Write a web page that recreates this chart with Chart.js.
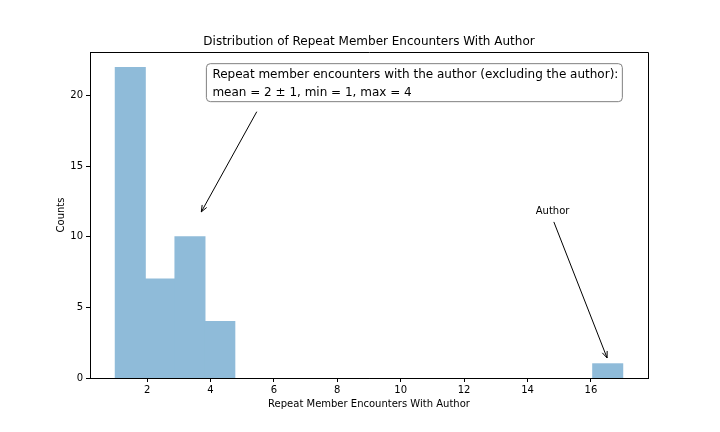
<!DOCTYPE html>
<html>
<head>
<meta charset="utf-8">
<script src="https://cdn.jsdelivr.net/npm/chart.js@4"></script>
<style>
  html, body { margin: 0; padding: 0; background: #fff; }
  #wrap { width: 720px; height: 432px; }
</style>
</head>
<body>
<div id="wrap"><canvas id="myChart"></canvas></div>
<script>
// Histogram data (17 bins between 1 and 17)
var binMin = 1;
var binMax = 17;
var counts = [22, 7, 10, 4, 0, 0, 0, 0, 0, 0, 0, 0, 0, 0, 0, 0, 1];
var xTicks = [2, 4, 6, 8, 10, 12, 14, 16];
var yTicks = [0, 5, 10, 15, 20];
var titleText = "Distribution of Repeat Member Encounters With Author";
var xLabel = "Repeat Member Encounters With Author";
var yLabel = "Counts";
var boxLines = [
  "Repeat member encounters with the author (excluding the author):",
  "mean = 2 \u00b1 1, min = 1, max = 4"
];

var binWidth = (binMax - binMin) / counts.length;
var points = counts.map(function (c, i) {
  return { x: binMin + binWidth * (i + 0.5), y: c };
});

var FONT = "'DejaVu Sans', sans-serif";

function drawArrow(ctx, x1, y1, x2, y2) {
  var ang = Math.atan2(y2 - y1, x2 - x1);
  var len = 7, spread = 0.38;
  ctx.beginPath();
  ctx.moveTo(x1, y1);
  ctx.lineTo(x2, y2);
  ctx.moveTo(x2 - len * Math.cos(ang - spread), y2 - len * Math.sin(ang - spread));
  ctx.lineTo(x2, y2);
  ctx.lineTo(x2 - len * Math.cos(ang + spread), y2 - len * Math.sin(ang + spread));
  ctx.stroke();
}

var annotations = {
  id: "annotations",
  afterDraw: function (chart) {
    var ctx = chart.ctx, xs = chart.scales.x, ys = chart.scales.y, a = chart.chartArea;
    ctx.save();
    // spines (bottom redrawn so bars never cover it)
    ctx.strokeStyle = "#000";
    ctx.lineWidth = 1;
    ctx.beginPath();
    ctx.moveTo(a.left, a.bottom + 0.5);
    ctx.lineTo(a.right + 0.5, a.bottom + 0.5);
    ctx.moveTo(a.left, a.top + 0.5);
    ctx.lineTo(a.right + 0.5, a.top + 0.5);
    ctx.lineTo(a.right + 0.5, a.bottom);
    ctx.stroke();

    // title and axis labels
    ctx.fillStyle = "#000";
    ctx.textAlign = "center";
    ctx.textBaseline = "middle";
    ctx.font = "12px " + FONT;
    ctx.fillText(titleText, (a.left + a.right) / 2, 42);
    ctx.font = "10px " + FONT;
    ctx.fillText(xLabel, (a.left + a.right) / 2, 404);
    ctx.save();
    ctx.translate(61, (a.top + a.bottom) / 2);
    ctx.rotate(-Math.PI / 2);
    ctx.fillText(yLabel, 0, 0);
    ctx.restore();

    // stats box
    ctx.font = "12px " + FONT;
    ctx.textAlign = "left";
    var tx = xs.getPixelForValue(4.06);
    var ty = ys.getPixelForValue(21.6) + 1.5;
    var w = Math.max(ctx.measureText(boxLines[0]).width, ctx.measureText(boxLines[1]).width);
    var bx = tx - 6, by = ty - 11, bw = w + 10, bh = 38, r = 4;
    ctx.beginPath();
    ctx.moveTo(bx + r, by);
    ctx.arcTo(bx + bw, by, bx + bw, by + bh, r);
    ctx.arcTo(bx + bw, by + bh, bx, by + bh, r);
    ctx.arcTo(bx, by + bh, bx, by, r);
    ctx.arcTo(bx, by, bx + bw, by, r);
    ctx.closePath();
    ctx.fillStyle = "#fff";
    ctx.fill();
    ctx.strokeStyle = "#808080";
    ctx.stroke();
    ctx.fillStyle = "#000";
    ctx.fillText(boxLines[0], tx, ty);
    ctx.fillText(boxLines[1], tx, ty + 18);

    ctx.strokeStyle = "#000";
    ctx.lineWidth = 1;
    drawArrow(ctx, xs.getPixelForValue(5.46), ys.getPixelForValue(18.87),
      xs.getPixelForValue(3.71), ys.getPixelForValue(11.77));

    // author label
    ctx.font = "10px " + FONT;
    ctx.fillText("Author", xs.getPixelForValue(14.26), ys.getPixelForValue(11.8));
    drawArrow(ctx, xs.getPixelForValue(14.83), ys.getPixelForValue(11.06),
      xs.getPixelForValue(16.51), ys.getPixelForValue(1.42));
    ctx.restore();
  }
};

var ctx = document.getElementById("myChart").getContext("2d");
var myChart = new Chart(ctx, {
  type: "bar",
  data: {
    datasets: [
      {
        label: "Counts",
        data: points,
        backgroundColor: "rgb(143, 187, 217)",
        borderWidth: 0,
        inflateAmount: function (c) { return c.raw && c.raw.y > 0 ? 0.6 : 0; },
        barPercentage: 1.0,
        categoryPercentage: 1.0,
      },
    ],
  },
  options: {
    responsive: true,
    maintainAspectRatio: false,
    animation: false,
    devicePixelRatio: 1,
    layout: { padding: { left: 0, right: 72, top: 52, bottom: 0 } },
    plugins: {
      legend: { display: false },
      tooltip: { enabled: false },
    },
    scales: {
      x: {
        type: "linear",
        min: 0.2,
        max: 17.8,
        offset: false,
        afterBuildTicks: function (s) { s.ticks = xTicks.map(function (v) { return { value: v }; }); },
        afterFit: function (s) { s.height = 54; },
        grid: { offset: false, drawOnChartArea: false, drawTicks: true, tickLength: 4, color: "#000" },
        border: { display: true, color: "#000" },
        ticks: { color: "#000", font: { family: FONT, size: 10 }, padding: 2, maxRotation: 0 },
      },
      y: {
        min: 0,
        max: 23.1,
        afterBuildTicks: function (s) { s.ticks = yTicks.map(function (v) { return { value: v }; }); },
        afterFit: function (s) { s.width = 90; },
        grid: { drawOnChartArea: false, drawTicks: true, tickLength: 4, color: "#000" },
        border: { display: true, color: "#000" },
        ticks: { color: "#000", font: { family: FONT, size: 10 }, padding: 3 },
      },
    },
  },
  plugins: [annotations],
});
</script>
</body>
</html>
